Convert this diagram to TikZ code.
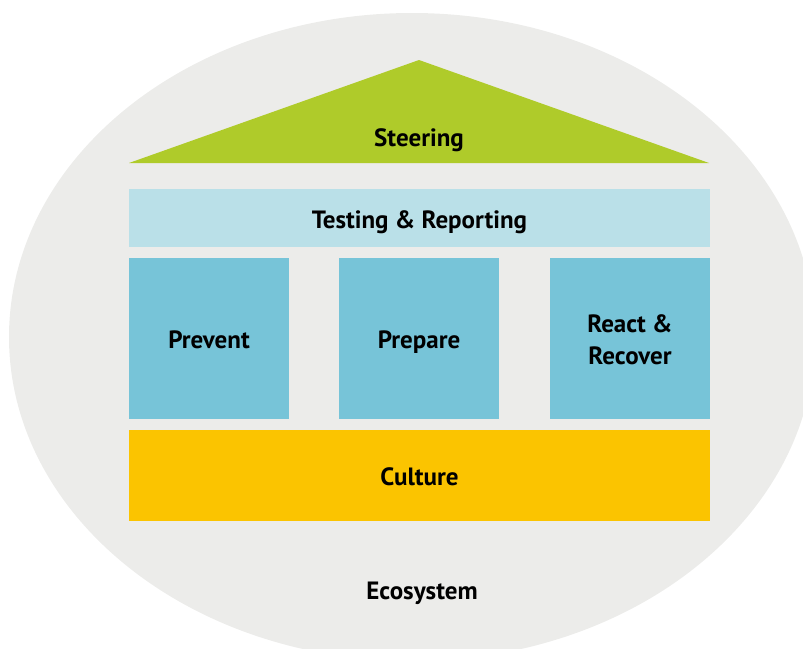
\documentclass[tikz,border=0pt]{standalone}
\usepackage{fontspec}
\setmainfont{PT Sans}
\begin{document}
\begin{tikzpicture}[x=1pt,y=-1pt,
  label text/.style={font=\bfseries\fontsize{25}{31.6}\selectfont, text=black, align=center},
  block/.style={inner sep=0pt, outer sep=0pt, draw=none, label text, text height=20pt, text depth=0pt},
]
\definecolor{ecogray}{RGB}{236,236,234}
\definecolor{roofgreen}{RGB}{175,203,42}
\definecolor{beamblue}{RGB}{186,224,232}
\definecolor{pillarblue}{RGB}{119,196,216}
\definecolor{baseyellow}{RGB}{251,196,0}
\useasboundingbox (0,0) rectangle (803,648);
\begin{scope}
  \clip (0,0) rectangle (803,648);
  \fill[ecogray] (412,337) ellipse [x radius=403pt, y radius=324pt];
\end{scope}
% roof
\fill[roofgreen] (129,163) -- (419,60) -- (709,163) -- cycle;
\node[label text, anchor=base] (steering) at (419,146.5) {Steering};
% beam
\node[block, fill=beamblue, minimum width=581pt, minimum height=58pt] (testing) at (419.5,218) {Testing \& Reporting};
% pillars
\node[block, fill=pillarblue, minimum width=160pt, minimum height=161pt] (prevent) at (209,338.5) {Prevent};
\node[block, fill=pillarblue, minimum width=160pt, minimum height=161pt] (prepare) at (419,338.5) {Prepare};
\node[block, fill=pillarblue, minimum width=160pt, minimum height=161pt, text height=51.6pt] (react) at (630,338.5) {React \&\\Recover};
% foundation
\node[block, fill=baseyellow, minimum width=581pt, minimum height=91pt] (culture) at (419.5,475.5) {Culture};
\node[label text, anchor=base] (ecosystem) at (422,599) {Ecosystem};
\end{tikzpicture}
\end{document}
